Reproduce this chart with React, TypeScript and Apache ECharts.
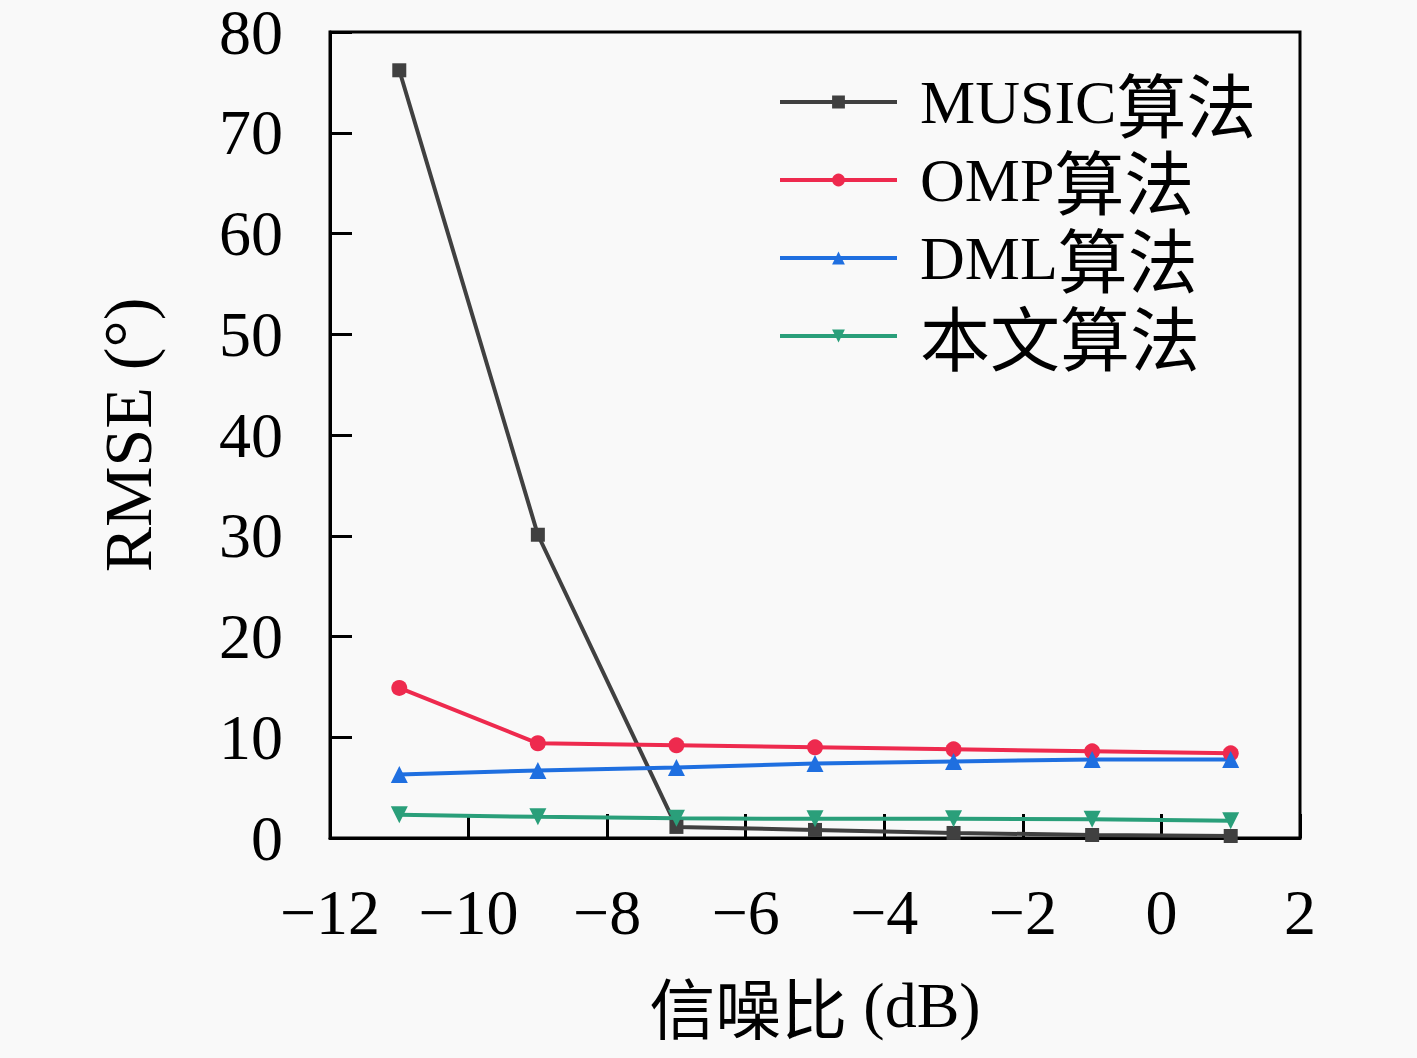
import React, { useEffect, useRef } from 'react';
import * as echarts from 'echarts';

const snr = [-11, -9, -7, -5, -3, -1, 1];
const musicRmse = [76.2, 30.1, 1.1, 0.8, 0.5, 0.3, 0.2];
const ompRmse = [14.9, 9.4, 9.2, 9.0, 8.8, 8.6, 8.4];
const dmlRmse = [6.3, 6.7, 7.0, 7.4, 7.6, 7.8, 7.8];
const oursRmse = [2.3, 2.1, 1.95, 1.9, 1.9, 1.85, 1.7];
const seriesNames = ['MUSIC算法', 'OMP算法', 'DML算法', '本文算法'];

const SERIF = "'Liberation Serif', 'DejaVu Serif', serif";
const CJK = "'Noto Sans CJK SC', sans-serif";
const FONT = "'Liberation Serif', 'Noto Sans CJK SC', serif";

const pair = (ys: number[]) => snr.map((x, i) => [x, ys[i]]);
const minus = (v: number) => (v < 0 ? '\u2212' + Math.abs(v) : String(v));

// wrap CJK runs and latin runs in separate rich styles
const richWrap = (s: string) =>
  s.replace(/([\u4e00-\u9fff]+)|([^\u4e00-\u9fff]+)/g, (_m, c, l) => (c ? `{c|${c}}` : `{l|${l}}`));

const App: React.FC = () => {
  const chartRef = useRef<HTMLDivElement>(null);

  useEffect(() => {
    if (!chartRef.current) return;
    const chart = echarts.init(chartRef.current, undefined, { renderer: 'svg' });

    const mk = (name: string, ys: number[], color: string, symbol: string, size: number, rotate = 0) => ({
      name,
      type: 'line' as const,
      data: pair(ys),
      symbol,
      symbolSize: size,
      symbolRotate: rotate,
      lineStyle: { color, width: 4 },
      itemStyle: { color },
      z: 3,
    });

    chart.setOption({
      animation: false,
      backgroundColor: '#f9f9f9',
      textStyle: { fontFamily: FONT },
      grid: {
        left: 330,
        right: 117,
        top: 32,
        bottom: 220,
        show: true,
        borderColor: '#000',
        borderWidth: 3,
        backgroundColor: 'transparent',
      },
      legend: {
        left: 773,
        top: 62,
        orient: 'vertical',
        itemWidth: 117,
        itemHeight: 16,
        itemGap: 8,
        data: seriesNames,
        lineStyle: { width: 4 },
        formatter: (n: string) => richWrap(n),
        textStyle: {
          color: '#000',
          padding: [0, 0, 0, 18],
          rich: {
            l: { fontFamily: SERIF, fontSize: 62, color: '#000', lineHeight: 64 },
            c: { fontFamily: CJK, fontSize: 70, color: '#000', lineHeight: 64 },
          },
        },
      },
      xAxis: {
        type: 'value',
        min: -12,
        max: 2,
        interval: 2,
        name: richWrap('信噪比 (dB)'),
        nameLocation: 'middle',
        nameGap: 134,
        nameTextStyle: {
          color: '#000',
          rich: {
            l: { fontFamily: SERIF, fontSize: 64, color: '#000' },
            c: { fontFamily: CJK, fontSize: 66, color: '#000' },
          },
        },
        axisLine: { onZero: false, lineStyle: { color: '#000', width: 3 } },
        axisTick: { inside: true, length: 24, lineStyle: { color: '#000', width: 3 } },
        axisLabel: {
          fontFamily: SERIF,
          fontSize: 64,
          color: '#000',
          margin: 42,
          formatter: (v: number) => minus(v),
        },
        splitLine: { show: false },
      },
      yAxis: {
        type: 'value',
        min: 0,
        max: 80,
        interval: 10,
        name: 'RMSE (°)',
        nameLocation: 'middle',
        nameGap: 168,
        nameTextStyle: { fontFamily: SERIF, fontSize: 68, color: '#000' },
        axisLine: { onZero: false, lineStyle: { color: '#000', width: 3 } },
        axisTick: { inside: true, length: 22, lineStyle: { color: '#000', width: 3 } },
        axisLabel: {
          fontFamily: SERIF,
          fontSize: 64,
          color: '#000',
          margin: 47,
        },
        splitLine: { show: false },
      },
      series: [
        mk(seriesNames[0], musicRmse, '#404040', 'rect', 14),
        mk(seriesNames[1], ompRmse, '#ee2a4e', 'circle', 16),
        mk(seriesNames[2], dmlRmse, '#1f6fe0', 'triangle', 17),
        mk(seriesNames[3], oursRmse, '#2a9f7a', 'triangle', 17, 180),
      ],
    });

    return () => chart.dispose();
  }, []);

  return (
    <div
      ref={chartRef}
      style={{ position: 'absolute', left: 0, top: 0, width: 1417, height: 1058 }}
    />
  );
};

export default App;
